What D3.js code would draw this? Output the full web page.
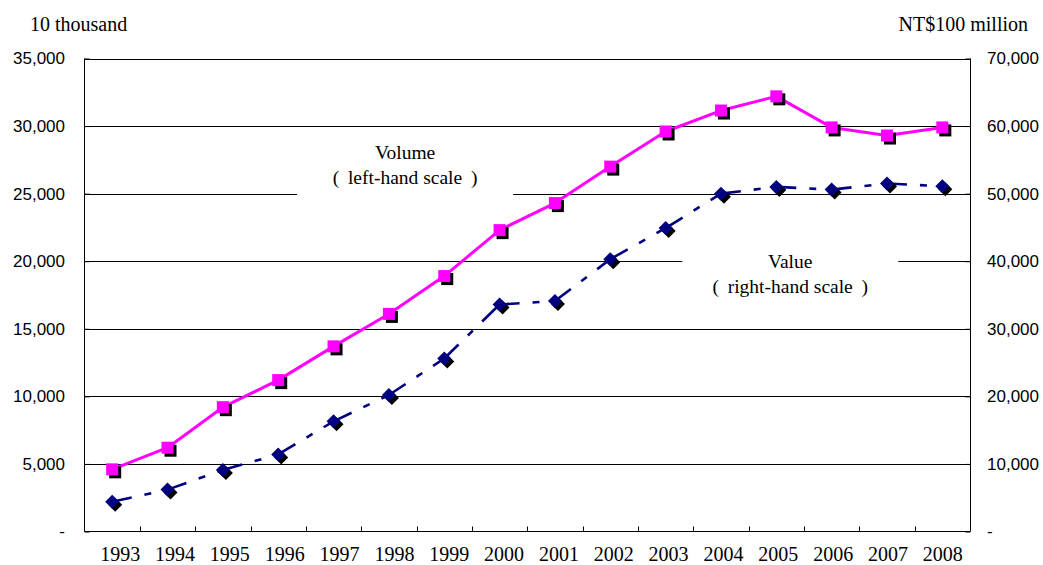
<!DOCTYPE html>
<html><head><meta charset="utf-8">
<script src="https://cdn.jsdelivr.net/npm/d3@7"></script>
<style>body{margin:0;background:#fff} svg{display:block}</style>
</head><body><svg id="c" width="1043" height="565"></svg>
<script>
// ---- data ----
const years = ["1993","1994","1995","1996","1997","1998","1999","2000","2001","2002","2003","2004","2005","2006","2007","2008"];
const volume = [4600, 6200, 9200, 11200, 13700, 16100, 18900, 22300, 24300, 27000, 29600, 31150, 32200, 29900, 29300, 29900];
const value  = [4400, 6200, 9100, 11400, 16300, 20200, 25600, 33600, 34100, 40300, 44900, 50000, 51000, 50600, 51500, 51100];
const leftTicks  = [0, 5000, 10000, 15000, 20000, 25000, 30000, 35000];
const rightTicks = [0, 10000, 20000, 30000, 40000, 50000, 60000, 70000];
const leftUnit = "10 thousand";
const rightUnit = "NT$100 million";
const volumeNote = ["Volume", "(\u00a0\u2009left-hand scale\u00a0\u2009)"];
const valueNote  = ["Value", "(\u00a0\u2009right-hand scale\u00a0\u2009)"];

// ---- layout ----
const svg = d3.select("#c");
const m = {l: 84.5, r: 970, t: 58.5, b: 531.5};
const serif = "'Liberation Serif','Times New Roman',serif";
const sans = "'Liberation Sans',Arial,sans-serif";

const x = d3.scaleBand().domain(years).range([m.l, m.r]);
const cx = d => x(d) + x.bandwidth() / 2;
const yL = d3.scaleLinear().domain([0, 35000]).range([m.b, m.t]);
const yR = d3.scaleLinear().domain([0, 70000]).range([m.b, m.t]);
const fmt = d => d === 0 ? "-" : d3.format(",")(d);

// gridlines
svg.append("g").selectAll("line").data(leftTicks.filter(d => d > 0)).join("line")
  .attr("x1", m.l).attr("x2", m.r)
  .attr("y1", d => Math.round(yL(d)) + 0.5).attr("y2", d => Math.round(yL(d)) + 0.5)
  .attr("stroke", "#000").attr("stroke-width", 1);

// frame lines
const frame = svg.append("g").attr("stroke", "#000").attr("stroke-width", 1);
frame.append("line").attr("x1", m.l).attr("x2", m.l).attr("y1", m.t).attr("y2", m.b);
frame.append("line").attr("x1", m.r + 0.5).attr("x2", m.r + 0.5).attr("y1", m.t).attr("y2", m.b);
frame.append("line").attr("x1", m.l).attr("x2", m.r).attr("y1", m.b).attr("y2", m.b);

// left axis
const ga = svg.append("g").attr("transform", `translate(${m.l},0)`)
  .call(d3.axisLeft(yL).tickValues(leftTicks).tickSize(-5).tickPadding(19.5).tickFormat(fmt));
ga.select(".domain").remove();
ga.selectAll("text").attr("font-family", sans).attr("font-size", 17).attr("fill", "#000");
ga.selectAll("line").attr("stroke", "#000");

// right axis
const gr = svg.append("g").attr("transform", `translate(${m.r + 0.5},0)`)
  .call(d3.axisRight(yR).tickValues(rightTicks).tickSize(-5).tickPadding(16.5).tickFormat(fmt));
gr.select(".domain").remove();
gr.selectAll("text").attr("font-family", sans).attr("font-size", 17).attr("fill", "#000");
gr.selectAll("line").attr("stroke", "#000");

// bottom ticks at band boundaries
svg.append("g").selectAll("line").data(years.slice(1)).join("line")
  .attr("x1", d => Math.round(x(d)) + 0.5).attr("x2", d => Math.round(x(d)) + 0.5)
  .attr("y1", m.b).attr("y2", m.b - 5).attr("stroke", "#000");

// bottom labels
svg.append("g").selectAll("text").data(years).join("text")
  .attr("x", (d, i) => cx(d) + 8 - i * 0.5).attr("y", m.b + 29.5)
  .attr("text-anchor", "middle").attr("font-family", serif).attr("font-size", 20)
  .text(d => d);

// unit labels
svg.append("text").attr("x", 30).attr("y", 31).attr("font-family", serif).attr("font-size", 20).text(leftUnit);
svg.append("text").attr("x", 1028).attr("y", 31).attr("text-anchor", "end").attr("font-family", serif).attr("font-size", 20).text(rightUnit);

// annotations
function note(lines, centerX, lineY, top) {
  const g = svg.append("g");
  g.append("rect").attr("x", centerX - 108).attr("y", top).attr("width", 216).attr("height", 58).attr("fill", "#fff");
  lines.forEach((t, i) => {
    g.append("text").attr("x", centerX).attr("y", lineY + i * 25)
      .attr("text-anchor", "middle")
      .attr("font-family", serif).attr("font-size", 19.5)
      .text(t);
  });
}
const pw = m.r - m.l;
note(volumeNote, m.l + pw * 0.362, yL(28000) + 6, yL(29000));
note(valueNote, m.l + pw * 0.797, yL(20000) + 6.5, yL(20850));

// volume line
svg.append("path").datum(volume)
  .attr("d", d3.line().x((d, i) => cx(years[i])).y(d => yL(d)))
  .attr("fill", "none").attr("stroke", "#FF00FF").attr("stroke-width", 3).attr("stroke-linejoin", "round");

// value line: each segment starts its own dash pattern
svg.append("g").selectAll("line").data(value.slice(1)).join("line")
  .attr("x1", (d, i) => cx(years[i])).attr("y1", (d, i) => yR(value[i]))
  .attr("x2", (d, i) => cx(years[i + 1])).attr("y2", d => yR(d))
  .attr("stroke", "#000080").attr("stroke-width", 2.6).attr("stroke-dasharray", "20,13,7,13");

// markers
const sq = 12, off = 3;
const gm = svg.append("g");
gm.selectAll("rect.s").data(volume).join("rect").attr("class", "s")
  .attr("x", (d, i) => cx(years[i]) - sq / 2 + off).attr("y", d => yL(d) - sq / 2 + off)
  .attr("width", sq).attr("height", sq).attr("fill", "#000");
gm.selectAll("rect.m").data(volume).join("rect").attr("class", "m")
  .attr("x", (d, i) => cx(years[i]) - sq / 2).attr("y", d => yL(d) - sq / 2)
  .attr("width", sq).attr("height", sq).attr("fill", "#FF00FF");

const dia = r => `M0,${-r}L${r},0L0,${r}L${-r},0Z`;
gm.selectAll("path.s").data(value).join("path").attr("class", "s")
  .attr("d", dia(7)).attr("transform", (d, i) => `translate(${cx(years[i]) + off},${yR(d) + off})`).attr("fill", "#000");
gm.selectAll("path.m").data(value).join("path").attr("class", "m")
  .attr("d", dia(7)).attr("transform", (d, i) => `translate(${cx(years[i])},${yR(d)})`).attr("fill", "#000080");
</script></body></html>
